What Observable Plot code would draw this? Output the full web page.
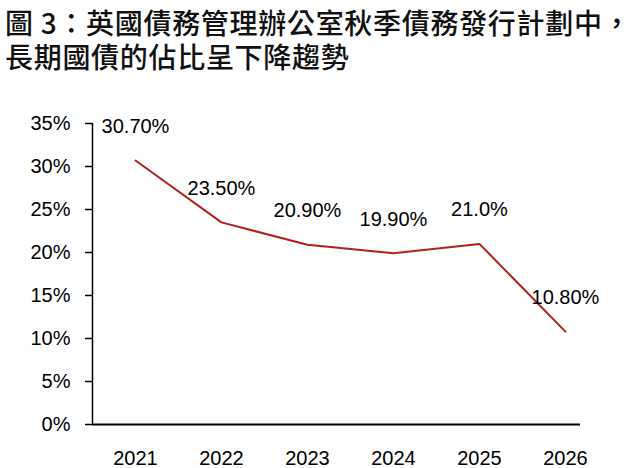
<!DOCTYPE html>
<html>
<head>
<meta charset="utf-8">
<script src="https://cdn.jsdelivr.net/npm/d3@7"></script>
<script src="https://cdn.jsdelivr.net/npm/@observablehq/plot@0.6"></script>
<style>
  html, body { margin: 0; padding: 0; background: #fff; }
  #title {
    font-family: "Noto Sans CJK TC", "Noto Sans CJK SC", sans-serif;
    font-weight: 500;
    font-size: 28px;
    line-height: 34px;
    letter-spacing: 0.7px;
    color: #111;
    padding: 5px 0 0 5px;
    height: 66px;
    box-sizing: border-box;
    white-space: nowrap;
  }
  #title .last { letter-spacing: 0; }
  #chart svg { display: block; }
</style>
</head>
<body>
<div id="title"><div>圖 3：英國債務管理辦公室秋季債務發行計劃中<span class="last">，</span></div><div>長期國債的佔比呈下降趨<span class="last">勢</span></div></div>
<div id="chart"></div>
<script>
const years = [2021, 2022, 2023, 2024, 2025, 2026];
const shares = [30.7, 23.5, 20.9, 19.9, 21.0, 10.8];
const labels = ["30.70%", "23.50%", "20.90%", "19.90%", "21.0%", "10.80%"];
const yTicks = [0, 5, 10, 15, 20, 25, 30, 35];

const data = years.map((year, i) => ({ year, share: shares[i], label: labels[i] }));
const xDomain = [2020.5, 2026.175];
const font = "Liberation Sans, Arial, Helvetica, sans-serif";

const chart = Plot.plot({
  width: 631,
  height: 402,
  marginTop: 57,
  marginBottom: 44,
  marginLeft: 92,
  marginRight: 51,
  style: { fontFamily: font, fontSize: "20px", color: "#000", background: "#fff" },
  x: { domain: xDomain },
  y: { domain: [0, 35] },
  marks: [
    Plot.axisY({
      ticks: yTicks,
      tickFormat: d => d + "%",
      tickSize: 7,
      tickPadding: 15,
      fontSize: 20,
      label: null,
      stroke: "#000",
      strokeWidth: 1.5,
      strokeOpacity: 1
    }),
    Plot.axisX({
      ticks: years,
      tickFormat: d => String(d),
      tickSize: 0,
      tickPadding: 26,
      fontSize: 20,
      label: null
    }),
    Plot.ruleX([xDomain[0]], { y1: 0, y2: 35, stroke: "#000", strokeWidth: 1.5 }),
    Plot.ruleY([0], { stroke: "#000", strokeWidth: 2.2 }),
    Plot.line(data, { x: "year", y: "share", stroke: "#b3201f", strokeWidth: 2 }),
    Plot.text(data, { x: "year", y: "share", text: "label", dy: -34, fontSize: 20, fill: "#000" })
  ]
});
document.getElementById("chart").appendChild(chart);
</script>
</body>
</html>
